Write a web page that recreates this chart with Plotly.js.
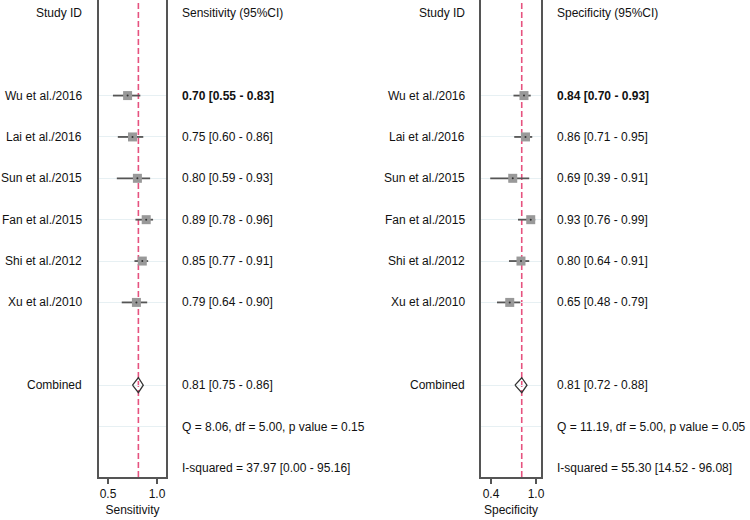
<!DOCTYPE html>
<html>
<head>
<meta charset="utf-8">
<script src="https://cdn.plot.ly/plotly-3.0.1.min.js"></script>
<style>
  body { margin: 0; background: #fff; }
  #box { width: 750px; height: 520px; }
</style>
</head>
<body>
<div id="box"></div>
<script>
'use strict'

var studies = ['Wu et al./2016', 'Lai et al./2016', 'Sun et al./2015', 'Fan et al./2015', 'Shi et al./2012', 'Xu et al./2010'];
var studyRows = [2, 3, 4, 5, 6, 7];

var sens = [0.70, 0.75, 0.80, 0.89, 0.85, 0.79];
var sensLo = [0.55, 0.60, 0.59, 0.78, 0.77, 0.64];
var sensHi = [0.83, 0.86, 0.93, 0.96, 0.91, 0.90];

var spec = [0.84, 0.86, 0.69, 0.93, 0.80, 0.65];
var specLo = [0.70, 0.71, 0.39, 0.76, 0.64, 0.48];
var specHi = [0.93, 0.95, 0.91, 0.99, 0.91, 0.79];

var sensPooled = [0.81, 0.75, 0.86];   // estimate, lower, upper
var specPooled = [0.81, 0.72, 0.88];
var combinedRow = 9;

var sensStats = ['Q = 8.06, df = 5.00, p value = 0.15', 'I-squared = 37.97 [0.00 - 95.16]'];
var specStats = ['Q = 11.19, df = 5.00, p value = 0.05', 'I-squared = 55.30 [14.52 - 96.08]'];
var statRows = [10, 11];

var sensTicks = [0.5, 1.0];
var specTicks = [0.4, 1.0];

var textColor = '#111';
var fontFam = 'Liberation Sans, Arial, sans-serif';

function fmt(v){ return v.toFixed(2); }

function panelTraces(est, lo, hi, pooled, xa, ya){
    var traces = [];
    traces.push({
        type: 'scatter', mode: 'markers',
        x: est, y: studyRows, xaxis: xa, yaxis: ya,
        marker: {symbol: 'square', size: 9, color: '#999', line: {width: 0}},
        error_x: {
            type: 'data', symmetric: false,
            array: est.map(function(v, i){ return hi[i] - v; }),
            arrayminus: est.map(function(v, i){ return v - lo[i]; }),
            color: '#555', thickness: 1.8, width: 0
        },
        hoverinfo: 'skip', showlegend: false
    });
    traces.push({
        type: 'scatter', mode: 'markers',
        x: est, y: studyRows, xaxis: xa, yaxis: ya,
        marker: {symbol: 'circle', size: 2, color: '#333'},
        hoverinfo: 'skip', showlegend: false
    });
    // pooled diamond spanning the confidence interval
    var h = 0.18;
    traces.push({
        type: 'scatter', mode: 'lines',
        x: [pooled[1], pooled[0], pooled[2], pooled[0], pooled[1]],
        y: [combinedRow, combinedRow - h, combinedRow, combinedRow + h, combinedRow],
        xaxis: xa, yaxis: ya,
        line: {color: '#333', width: 1.3},
        hoverinfo: 'skip', showlegend: false
    });
    return traces;
}

var graphData = panelTraces(sens, sensLo, sensHi, sensPooled, 'x', 'y')
    .concat(panelTraces(spec, specLo, specHi, specPooled, 'x2', 'y2'));

var W = 750, H = 520;
var leftDom = [99 / W, 166 / W];
var rightDom = [481 / W, 541 / W];
var yDom = [1 - 477 / H, 1];
var yRange = [11.22, -0.31];

var annotations = [];
function txt(x, y, s, anchor, yref, bold){
    annotations.push({
        xref: 'paper', yref: yref, x: x, y: y, text: bold ? '<b>' + s + '</b>' : s,
        xanchor: anchor, yanchor: 'middle', showarrow: false,
        font: {family: fontFam, size: 12, color: textColor}
    });
}

function panelText(nameX, valX, yref, header, est, lo, hi, pooled, stats){
    txt(nameX, 0, 'Study ID', 'right', yref);
    txt(valX, 0, header, 'left', yref);
    studies.forEach(function(s, i){
        txt(nameX, studyRows[i], s, 'right', yref);
        txt(valX, studyRows[i], fmt(est[i]) + ' [' + fmt(lo[i]) + ' - ' + fmt(hi[i]) + ']', 'left', yref, i === 0);
    });
    txt(nameX, combinedRow, 'Combined', 'right', yref);
    txt(valX, combinedRow, fmt(pooled[0]) + ' [' + fmt(pooled[1]) + ' - ' + fmt(pooled[2]) + ']', 'left', yref);
    stats.forEach(function(s, i){ txt(valX, statRows[i], s, 'left', yref); });
}

panelText(84 / W, 180 / W, 'y', 'Sensitivity (95%CI)', sens, sensLo, sensHi, sensPooled, sensStats);
panelText(467 / W, 555 / W, 'y2', 'Specificity (95%CI)', spec, specLo, specHi, specPooled, specStats);

function refLine(xref, v){
    return {
        type: 'line', xref: xref, yref: 'paper', x0: v, x1: v, y0: yDom[0], y1: 1,
        layer: 'below',
        line: {color: '#e6527f', width: 1.6, dash: '6px,3px'}
    };
}

function xAxis(dom, range, ticks, title, anchor){
    return {
        domain: dom, range: range, anchor: anchor,
        showgrid: false, zeroline: false,
        showline: true, linecolor: '#555', linewidth: 1.6,
        tickvals: ticks, ticktext: ticks.map(function(t){ return t.toFixed(1); }),
        ticks: 'outside', ticklen: 5, tickwidth: 1.5, tickcolor: '#555',
        tickfont: {family: fontFam, size: 12, color: textColor},
        title: {text: title, standoff: 5, font: {family: fontFam, size: 12, color: textColor}}
    };
}

function yAxis(anchor){
    return {
        domain: yDom, range: yRange, anchor: anchor,
        tickvals: [2, 3, 4, 5, 6, 7, 9, 10], showticklabels: false, ticks: '',
        showgrid: true, gridcolor: '#e7f0f3', gridwidth: 1,
        zeroline: false, showline: true, mirror: true, linecolor: '#555', linewidth: 1.6
    };
}

var layout = {
    width: W, height: H,
    margin: {l: 0, r: 0, t: 0, b: 0},
    paper_bgcolor: '#fff', plot_bgcolor: '#fff',
    showlegend: false,
    xaxis: xAxis(leftDom, [0.408, 1.092], sensTicks, 'Sensitivity', 'y'),
    yaxis: yAxis('x'),
    xaxis2: xAxis(rightDom, [0.267, 1.067], specTicks, 'Specificity', 'y2'),
    yaxis2: yAxis('x2'),
    shapes: [refLine('x', sensPooled[0]), refLine('x2', specPooled[0])],
    annotations: annotations
};

Plotly.newPlot('box', graphData, layout, {displayModeBar: false, staticPlot: true});
</script>
</body>
</html>
